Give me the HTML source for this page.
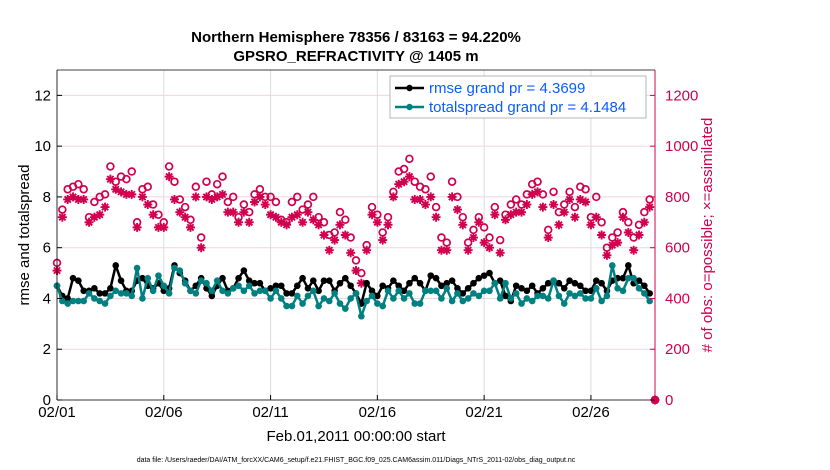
<!DOCTYPE html>
<html><head><meta charset="utf-8"><style>
html,body{margin:0;padding:0;background:#fff;}
svg{display:block;font-family:"Liberation Sans",Arial,sans-serif;}
</style></head><body>
<svg id="chart" width="830" height="470" viewBox="0 0 830 470">
<g id="grid"></g>
<g id="marks"></g>
<g id="axes"></g>
<text x="356" y="42" text-anchor="middle" font-size="15" font-weight="bold">Northern Hemisphere 78356 / 83163 = 94.220%</text>
<text x="356" y="61" text-anchor="middle" font-size="15" font-weight="bold">GPSRO_REFRACTIVITY @ 1405 m</text>
<text transform="translate(29,235) rotate(-90)" text-anchor="middle" font-size="15">rmse and totalspread</text>
<text transform="translate(712,235) rotate(-90)" text-anchor="middle" font-size="15" fill="#d1004f"># of obs: o=possible; ×=assimilated</text>
<text x="356" y="441" text-anchor="middle" font-size="15">Feb.01,2011 00:00:00 start</text>
<text x="356" y="462" text-anchor="middle" font-size="7">data file: /Users/raeder/DAI/ATM_forcXX/CAM6_setup/f.e21.FHIST_BGC.f09_025.CAM6assim.011/Diags_NTrS_2011-02/obs_diag_output.nc</text>
<g>
<rect x="390" y="76" width="256" height="42" fill="#fff" stroke="#888" stroke-width="0.6"/>
<line x1="395" y1="88" x2="424" y2="88" stroke="#000" stroke-width="2.5"/>
<circle cx="409.5" cy="88" r="3.2" fill="#000"/>
<text x="429" y="93" font-size="15" fill="#0b5cff">rmse grand pr = 4.3699</text>
<line x1="395" y1="107" x2="424" y2="107" stroke="#008080" stroke-width="2.5"/>
<circle cx="409.5" cy="107" r="3.2" fill="#008080"/>
<text x="429" y="112" font-size="15" fill="#0b5cff">totalspread grand pr = 4.1484</text>
</g>
<script>
const xTicks = ["02/01","02/06","02/11","02/16","02/21","02/26"];
const xTickDays = [0,5,10,15,20,25];
const leftTicks = [0,2,4,6,8,10,12];
const rightTicks = [0,200,400,600,800,1000,1200];
const possible = [540,750,830,840, 850,830,720,780, 800,810,920,860, 880,870,900,700, 830,840,770,730, 700,920,860,790, 760,710,840,640, 860,810,850,880, 780,800,720,770, 740,810,830,800, 800,780,710,700, 780,800,750,770, 800,720,700,650, 660,740,710,640, 550,500,610,760, 730,660,720,820, 900,910,950,860, 840,830,880,760, 640,620,860,800, 720,620,670,720, 680,640,760,630, 730,770,790,770, 810,850,860,810, 670,820,740,770, 820,760,840,830, 720,800,700,600, 640,660,740,700, 640,690,740,790, 0];
const assimilated = [510,720,790,800, 790,790,700,720, 730,760,870,830, 820,810,810,680, 800,770,730,680, 680,880,790,740, 720,680,800,600, 800,790,800,810, 740,740,700,740, 700,780,800,770, 730,720,700,690, 720,730,700,740, 710,690,650,590, 630,690,650,580, 510,460,590,730, 700,630,690,800, 850,860,880,790, 790,770,800,720, 590,590,800,750, 690,590,640,700, 620,600,730,580, 710,730,740,740, 770,810,820,760, 640,770,690,740, 790,720,790,780, 690,720,650,570, 610,620,720,660, 590,650,700,760, 0];
const rmse = [4.5,4.1,4.0,4.8, 4.7,4.3,4.3,4.4, 4.2,4.2,4.4,5.3, 4.7,4.3,4.3,4.7, 4.8,4.5,4.4,4.6, 4.3,4.4,5.3,5.0, 4.7,4.3,4.5,4.8, 4.4,4.1,4.5,4.8, 4.3,4.4,4.8,5.1, 4.7,4.6,4.6,4.3, 4.4,4.5,4.5,4.2, 4.2,4.5,4.8,4.4, 4.7,4.3,4.7,4.7, 4.3,4.6,4.8,4.5, 4.2,3.8,4.6,4.3, 4.1,4.5,4.4,4.7, 4.5,4.3,4.6,4.8, 4.6,4.3,4.9,4.8, 4.5,4.6,4.7,4.4, 4.2,4.4,4.6,4.8, 4.9,5.0,4.6,4.7, 4.1,3.9,4.5,4.4, 4.3,4.5,4.2,4.4, 4.6,4.7,4.6,4.4, 4.7,4.6,4.5,4.3, 4.3,4.7,4.6,4.3, 4.7,4.8,4.8,5.3, 4.6,4.7,4.5,4.2];
const spread = [4.5,3.9,3.8,3.9, 3.9,3.9,4.2,4.0, 3.9,3.8,4.1,4.3, 4.2,4.2,4.1,5.2, 4.0,4.8,4.3,4.9, 4.5,4.2,5.2,5.1, 4.6,4.3,4.2,4.7, 4.6,4.3,4.7,4.3, 4.2,4.4,4.5,4.3, 4.5,4.2,4.3,4.3, 4.0,4.3,4.0,3.7, 3.7,4.1,3.8,4.1, 4.3,3.7,4.0,3.9, 4.2,3.8,3.6,4.0, 4.2,3.3,3.9,4.1, 3.8,3.7,4.3,4.0, 4.3,4.0,4.2,3.8, 3.8,4.3,4.3,4.3, 4.0,4.4,3.9,4.2, 3.9,4.0,4.2,4.1, 4.3,4.3,4.6,4.0, 4.6,4.0,4.2,3.8, 4.0,3.9,4.1,4.1, 4.0,4.7,4.1,3.8, 4.2,4.1,4.2,4.0, 4.0,4.4,3.9,4.1, 5.3,4.4,4.3,4.8, 4.8,4.4,4.2,3.9];

const NS = "http://www.w3.org/2000/svg";
const X0 = 57, X1 = 655, Y0 = 400, Y1 = 70, DAYS = 28;
const xs = d => X0 + (d / DAYS) * (X1 - X0);
const yl = v => Y0 - (v / 13) * (Y0 - Y1);
const yr = v => Y0 - (v / 1300) * (Y0 - Y1);
const PINK = "#d1004f", TEAL = "#008080";
function mk(tag, attrs, parent){ const e=document.createElementNS(NS,tag); for(const k in attrs) e.setAttribute(k,attrs[k]); parent.appendChild(e); return e; }
const grid = document.getElementById("grid"), marks = document.getElementById("marks"), axes = document.getElementById("axes");

leftTicks.forEach(v => {
  const l = mk("line",{x1:X0,x2:X1,y1:yl(v),y2:yl(v),stroke:"#f2d4df","stroke-width":1},grid);
  
  
  const t = mk("text",{x:X0-6,y:yl(v)+5,"text-anchor":"end","font-size":15},axes);
  t.textContent = v;
  
  
  mk("line",{x1:X0,x2:X0+5,y1:yl(v),y2:yl(v),stroke:"#000"},axes);
});
rightTicks.forEach(v => {
  const t = mk("text",{x:X1+10,y:yr(v)+5,"font-size":15,fill:PINK},axes);
  t.textContent = v;
  
  
  mk("line",{x1:X1-5,x2:X1,y1:yr(v),y2:yr(v),stroke:PINK},axes);
});
xTickDays.forEach((d,i) => {
  const l = mk("line",{x1:xs(d),x2:xs(d),y1:Y1,y2:Y0,stroke:"#dcdcdc","stroke-width":1},grid);
  
  
  const t = mk("text",{x:xs(d),y:Y0+17,"text-anchor":"middle","font-size":15},axes);
  t.textContent = xTicks[i];
  
  
  mk("line",{x1:xs(d),x2:xs(d),y1:Y0,y2:Y0-5,stroke:"#000"},axes);
});
mk("line",{x1:X0,x2:X1,y1:Y1,y2:Y1,stroke:"#000","stroke-width":0.8},axes);
mk("line",{x1:X0,x2:X1,y1:Y0,y2:Y0,stroke:"#000","stroke-width":0.8},axes);
mk("line",{x1:X0,x2:X0,y1:Y1,y2:Y0,stroke:"#000","stroke-width":0.8},axes);
mk("line",{x1:X1,x2:X1,y1:Y1,y2:Y0,stroke:PINK,"stroke-width":1},axes);

possible.forEach((v,i) => {
  const c = mk("circle",{cx:xs(i/4),cy:yr(v),r:3.4,fill:"none",stroke:PINK,"stroke-width":1.7},marks);
  
  
});
assimilated.forEach((v,i) => {
  const x = xs(i/4), y = yr(v), r = 4.5;
  const g = mk("path",{d:`M${x-r} ${y}H${x+r}M${x} ${y-r}V${y+r}M${x-r*0.7} ${y-r*0.7}L${x+r*0.7} ${y+r*0.7}M${x-r*0.7} ${y+r*0.7}L${x+r*0.7} ${y-r*0.7}`,stroke:PINK,"stroke-width":1.9},marks);
  
  
});
function series(arr,color,name){
  const p = mk("polyline",{points:arr.map((v,i)=>xs(i/4)+","+yl(v)).join(" "),fill:"none",stroke:color,"stroke-width":2.5,"stroke-linejoin":"round"},marks);
  
  
  arr.forEach((v,i) => {
    const c = mk("circle",{cx:xs(i/4),cy:yl(v),r:3.3,fill:color},marks);
    
    
  });
}
series(rmse,"#000","rmse");
series(spread,TEAL,"totalspread");
</script>
</svg>
</body></html>
